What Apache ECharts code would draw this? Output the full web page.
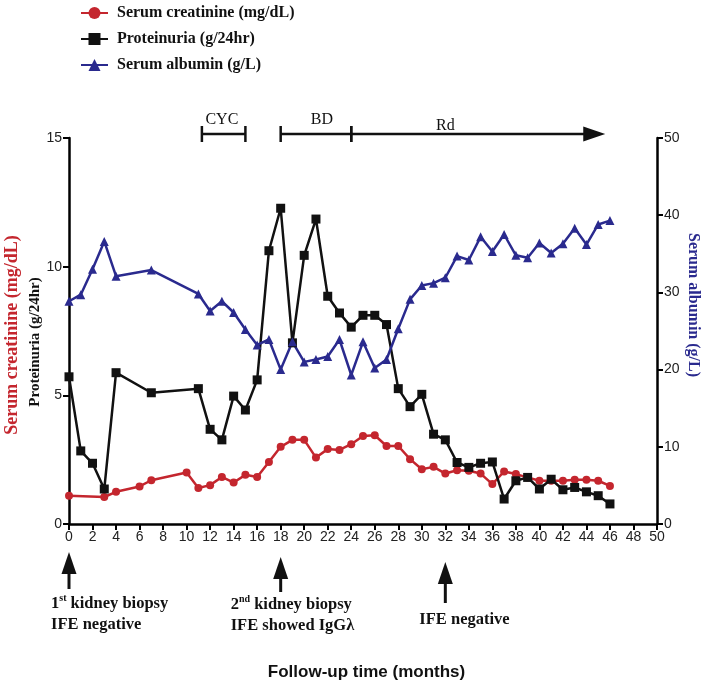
<!DOCTYPE html>
<html><head><meta charset="utf-8">
<script src="https://cdn.jsdelivr.net/npm/echarts@6/dist/echarts.min.js"></script>
<style>html,body{margin:0;padding:0;background:#fff}#c{width:714px;height:686px}</style>
</head><body><div id="c"></div>
<script>
// ---- data ----
const creatMonths = [0,3,4,6,7,10,11,12,13,14,15,16,17,18,19,20,21,22,23,24,25,26,27,28,29,30,31,32,33,34,35,36,37,38,39,40,41,42,43,44,45,46];
const creatinine  = [1.10,1.05,1.25,1.46,1.70,2.00,1.40,1.51,1.83,1.61,1.91,1.83,2.41,3.00,3.27,3.27,2.58,2.91,2.88,3.10,3.42,3.45,3.03,3.03,2.52,2.13,2.22,1.96,2.09,2.07,1.96,1.55,2.04,1.94,1.81,1.68,1.68,1.68,1.72,1.72,1.68,1.48];
const protMonths  = [0,1,2,3,4,7,11,12,13,14,15,16,17,18,19,20,21,22,23,24,25,26,27,28,29,30,31,32,33,34,35,36,37,38,39,40,41,42,43,44,45,46];
const proteinuria = [5.72,2.84,2.36,1.36,5.88,5.10,5.26,3.68,3.27,4.97,4.43,5.60,10.62,12.27,7.04,10.44,11.85,8.85,8.20,7.65,8.11,8.11,7.75,5.26,4.56,5.04,3.49,3.27,2.39,2.20,2.36,2.41,0.97,1.68,1.81,1.36,1.74,1.33,1.42,1.25,1.10,0.78];
const albMonths   = [0,1,2,3,4,7,11,12,13,14,15,16,17,18,19,20,21,22,23,24,25,26,27,28,29,30,31,32,33,34,35,36,37,38,39,40,41,42,43,44,45,46];
const albumin     = [28.85,29.7,33.0,36.6,32.1,32.9,29.8,27.6,28.85,27.4,25.2,23.2,23.9,20.0,23.6,21.0,21.3,21.7,23.9,19.3,23.6,20.2,21.3,25.3,29.1,30.9,31.2,31.9,34.7,34.2,37.2,35.3,37.5,34.8,34.5,36.4,35.1,36.3,38.3,36.2,38.8,39.3];
const seriesNames = ['Serum creatinine (mg/dL)','Proteinuria (g/24hr)','Serum albumin (g/L)'];
// treatment periods (months)
const treatNames  = ['CYC','BD','Rd'];
const treatStart  = [11.3,18,24];
const treatEnd    = [15,24,45.6];
const treatLabelAt= [13,21.5,32];
// events (months)
const eventMonths = [0,18,32];
const eventTexts  = ['1{sup|st} kidney biopsy\nIFE negative','2{sup|nd} kidney biopsy\nIFE showed IgGλ','IFE negative'];

const RED='#c4262e', BLACK='#111111', BLUE='#2a2a8e';
const serif='"Liberation Serif","Times New Roman",serif';
const sans='"Liberation Sans",Arial,sans-serif';

const pairs=(xs,ys)=>xs.map((x,i)=>[x,ys[i]]);
const chart=echarts.init(document.getElementById('c'));
chart.setOption({
  animation:false,
  backgroundColor:'#fff',
  grid:{left:69,right:57,top:138,bottom:162,containLabel:false},
  legend:{
    orient:'vertical',left:80,top:5,padding:0,itemGap:10,itemWidth:27,itemHeight:15,
    textStyle:{fontFamily:serif,fontWeight:'bold',fontSize:16,color:'#111',padding:[0,0,0,4]},
    data:seriesNames
  },
  xAxis:{type:'value',min:0,max:50,interval:2,
    axisLine:{lineStyle:{color:'#000',width:2.5}},
    axisTick:{length:6,lineStyle:{color:'#000',width:2}},
    axisLabel:{fontFamily:sans,fontSize:14,color:'#222',margin:6},
    splitLine:{show:false}},
  yAxis:[
    {type:'value',min:0,max:15,interval:5,position:'left',
     axisLine:{show:true,lineStyle:{color:'#000',width:2.5}},
     axisTick:{show:true,length:6,lineStyle:{color:'#000',width:2}},
     axisLabel:{fontFamily:sans,fontSize:14,color:'#222',margin:7},
     splitLine:{show:false}},
    {type:'value',min:0,max:50,interval:10,position:'right',
     axisLine:{show:true,lineStyle:{color:'#000',width:2.5}},
     axisTick:{show:true,length:6,lineStyle:{color:'#000',width:2}},
     axisLabel:{fontFamily:sans,fontSize:14,color:'#222',margin:7},
     splitLine:{show:false}}
  ],
  series:[
    {name:seriesNames[0],type:'line',yAxisIndex:0,data:pairs(creatMonths,creatinine),
     symbol:'circle',symbolSize:8,lineStyle:{color:RED,width:2.5},itemStyle:{color:RED}},
    {name:seriesNames[1],type:'line',yAxisIndex:0,data:pairs(protMonths,proteinuria),
     symbol:'rect',symbolSize:9,lineStyle:{color:BLACK,width:2.5},itemStyle:{color:BLACK}},
    {name:seriesNames[2],type:'line',yAxisIndex:1,data:pairs(albMonths,albumin),
     symbol:'triangle',symbolSize:9,lineStyle:{color:BLUE,width:2.5},itemStyle:{color:BLUE}}
  ]
});

// ---- annotations positioned through the axes ----
const px=m=>chart.convertToPixel({xAxisIndex:0},m);
const py=v=>chart.convertToPixel({yAxisIndex:0},v);
const yBottom=py(0), yTop=py(15);
const g=[];
const barY=yTop-4;
treatNames.forEach((n,i)=>{
  const x0=px(treatStart[i]), x1=px(treatEnd[i]);
  const isLast=i===treatNames.length-1;
  g.push({type:'line',shape:{x1:x0,y1:barY,x2:isLast?x1-20:x1,y2:barY},style:{stroke:'#111',lineWidth:2.5}});
  g.push({type:'line',shape:{x1:x0,y1:barY-8,x2:x0,y2:barY+8},style:{stroke:'#111',lineWidth:2.5}});
  if(isLast){
    g.push({type:'polygon',shape:{points:[[x1,barY],[x1-22,barY-7.5],[x1-22,barY+7.5]]},style:{fill:'#111'}});
  } else {
    g.push({type:'line',shape:{x1:x1,y1:barY-8,x2:x1,y2:barY+8},style:{stroke:'#111',lineWidth:2.5}});
  }
  g.push({type:'text',x:px(treatLabelAt[i]),y:barY-(i===2?8:14),
    style:{text:n,fontFamily:serif,fontSize:16,fill:'#111',align:'center',verticalAlign:'middle'}});
});
const tipOff=[28,33,38], endOff=[65,68,79], textDx=[-18,-50,-26], textDy=[90,91,96];
eventMonths.forEach((m,i)=>{
  const x=px(m), tip=yBottom+tipOff[i], end=yBottom+endOff[i];
  g.push({type:'polygon',shape:{points:[[x,tip],[x-7.5,tip+22],[x+7.5,tip+22]]},style:{fill:'#111'}});
  g.push({type:'line',shape:{x1:x,y1:tip+18,x2:x,y2:end},style:{stroke:'#111',lineWidth:3}});
  g.push({type:'text',x:x+textDx[i],y:yBottom+textDy[i],
    style:{text:eventTexts[i],fontFamily:serif,fontWeight:'bold',fontSize:16.5,fill:'#111',
      align:'left',verticalAlign:'middle',lineHeight:21,
      rich:{sup:{fontFamily:serif,fontWeight:'bold',fontSize:10,verticalAlign:'top',lineHeight:14,fill:'#111'}}}});
});
// axis titles
const yMid=(yTop+yBottom)/2;
g.push({type:'text',x:12,y:yMid+4,rotation:Math.PI/2,
  style:{text:seriesNames[0],fontFamily:serif,fontWeight:'bold',fontSize:18,fill:RED,align:'center',verticalAlign:'middle'}});
g.push({type:'text',x:35,y:yMid+11,rotation:Math.PI/2,
  style:{text:'Proteinuria (g/24hr)',fontFamily:serif,fontWeight:'bold',fontSize:15,fill:BLACK,align:'center',verticalAlign:'middle'}});
g.push({type:'text',x:693,y:yMid-26,rotation:-Math.PI/2,
  style:{text:seriesNames[2],fontFamily:serif,fontWeight:'bold',fontSize:16,fill:BLUE,align:'center',verticalAlign:'middle'}});
g.push({type:'text',x:px(25.3),y:yBottom+148,
  style:{text:'Follow-up time (months)',fontFamily:sans,fontWeight:'bold',fontSize:17,fill:'#111',align:'center',verticalAlign:'middle'}});
chart.setOption({graphic:g});
</script></body></html>
